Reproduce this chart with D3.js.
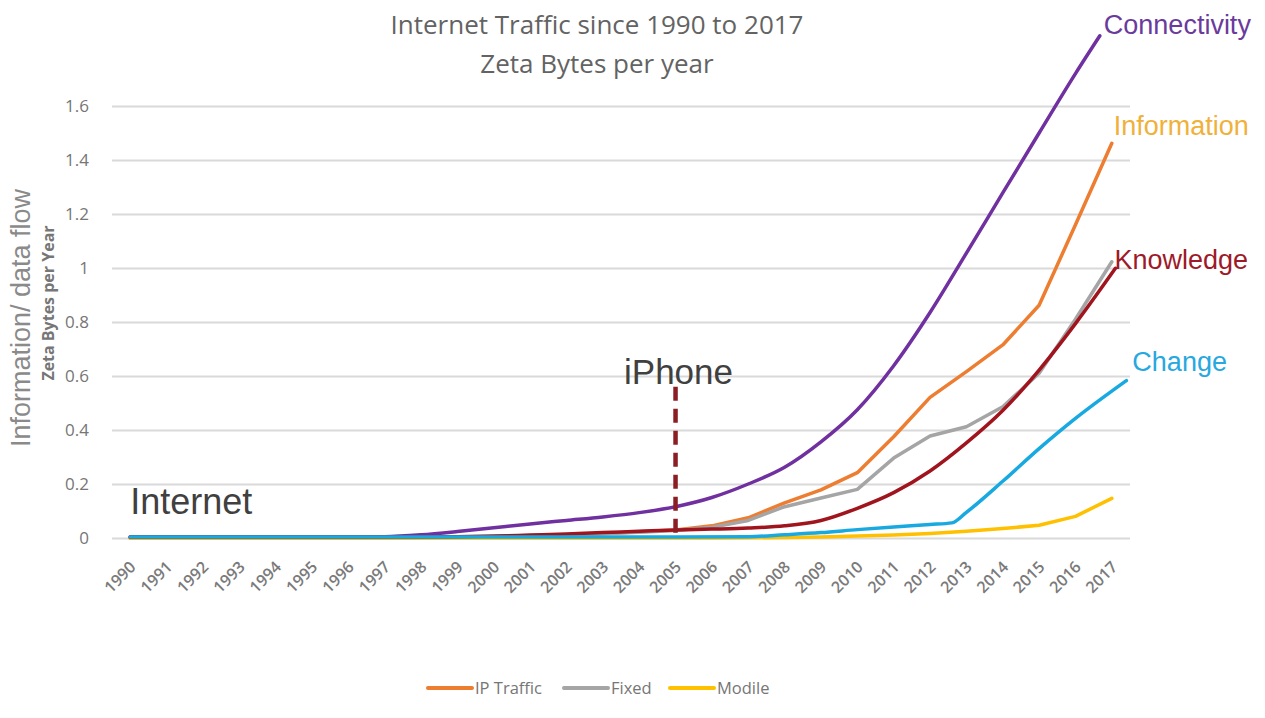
<!DOCTYPE html>
<html>
<head>
<meta charset="utf-8">
<script src="https://cdn.jsdelivr.net/npm/d3@7"></script>
<style>
  html, body { margin: 0; padding: 0; background: #fff; }
  svg { display: block; }
</style>
</head>
<body>
<svg id="chart" width="1265" height="718"></svg>
<script>
// Yearly categories and measured series (zettabytes per year)
const years = [1990,1991,1992,1993,1994,1995,1996,1997,1998,1999,2000,2001,2002,2003,2004,2005,2006,2007,2008,2009,2010,2011,2012,2013,2014,2015,2016,2017];
const ipTraffic = [0,0,0,0,0,0,0,0.001,0.002,0.003,0.005,0.008,0.012,0.017,0.023,0.03,0.045,0.075,0.13,0.178,0.242,0.375,0.521,0.616,0.715,0.862,1.16,1.462];
const fixed     = [0,0,0,0,0,0,0,0.001,0.002,0.003,0.005,0.008,0.011,0.016,0.021,0.028,0.04,0.065,0.116,0.148,0.18,0.296,0.378,0.412,0.486,0.61,0.81,1.023];
const mobile    = [0,0,0,0,0,0,0,0,0,0,0,0,0,0,0,0,0,0.001,0.002,0.004,0.007,0.011,0.017,0.025,0.035,0.047,0.08,0.147];

// Annotation curves drawn over the chart
const connectivityYears = [1990,1994,1996,1997,1998,1999,2000,2001,2002,2003,2004,2005,2006,2007,2008,2009,2010,2011,2012,2013,2014,2015,2016,2016.67];
const connectivity      = [0.004,0.004,0.004,0.005,0.012,0.024,0.038,0.052,0.065,0.078,0.094,0.116,0.15,0.2,0.262,0.356,0.475,0.638,0.835,1.055,1.278,1.5,1.72,1.86];
const knowledgeYears = [1990,1998,1999,2000,2001,2002,2003,2004,2005,2006,2007,2008,2009,2010,2011,2012,2013,2014,2015,2016,2017.1];
const knowledge      = [0.004,0.004,0.005,0.007,0.011,0.015,0.02,0.025,0.03,0.033,0.037,0.045,0.065,0.11,0.168,0.248,0.352,0.472,0.622,0.794,0.999];
const changeYears = [1990,1995,2000,2005,2007,2008,2009,2010,2011,2012,2012.6,2013,2014,2015,2016,2017.4];
const change      = [0.004,0.004,0.004,0.004,0.005,0.012,0.02,0.031,0.041,0.05,0.056,0.095,0.21,0.331,0.443,0.583];

const yTicks = [0,0.2,0.4,0.6,0.8,1,1.2,1.4,1.6];
const iPhoneYear = 2005;
const iPhoneTop = 0.56;

const svg = d3.select("#chart");
const x = d3.scaleLinear().domain([1989.5, 2017.5]).range([112, 1130]);
const y = d3.scaleLinear().domain([0, 1.6]).range([538, 106]);

const FONT = "'Open Sans', sans-serif";
const ARIAL = "'Liberation Sans', Arial, sans-serif";

// Titles
svg.append("text").attr("x", 597).attr("y", 34).attr("text-anchor", "middle")
  .attr("font-family", FONT).attr("font-size", 26).attr("fill", "#636363")
  .text("Internet Traffic since 1990 to 2017");
svg.append("text").attr("x", 597).attr("y", 73).attr("text-anchor", "middle")
  .attr("font-family", FONT).attr("font-size", 26).attr("fill", "#636363")
  .text("Zeta Bytes per year");

// Horizontal gridlines + y axis labels
const yAxis = d3.axisLeft(y).tickValues(yTicks).tickSize(-(1130 - 112)).tickPadding(23)
  .tickFormat(d => String(d));
const gy = svg.append("g").attr("transform", "translate(112,0)").call(yAxis);
gy.select(".domain").remove();
gy.selectAll(".tick line").attr("stroke", "#d9d9d9").attr("stroke-width", 2);
gy.selectAll(".tick text").attr("font-family", FONT).attr("font-size", 17).attr("fill", "#767676");

// X axis labels, rotated
const xAxis = d3.axisBottom(x).tickValues(years).tickSize(0).tickFormat(d3.format("d"));
const gx = svg.append("g").attr("transform", "translate(0,538)").call(xAxis);
gx.select(".domain").remove();
gx.selectAll(".tick text")
  .attr("font-family", FONT).attr("font-size", 16).attr("font-weight", 600).attr("fill", "#7a7a7a")
  .attr("text-anchor", "end").attr("dy", 0)
  .attr("transform", "translate(4,28) rotate(-45)");

// Axis titles
svg.append("text").attr("transform", "translate(54,303) rotate(-90)").attr("text-anchor", "middle")
  .attr("font-family", FONT).attr("font-weight", "bold").attr("font-size", 16).attr("fill", "#767676")
  .text("Zeta Bytes per Year");
svg.append("text").attr("transform", "translate(30,318) rotate(-90)").attr("text-anchor", "middle")
  .attr("font-family", ARIAL).attr("font-size", 27).attr("fill", "#8a8a8a")
  .text("Information/ data flow");

// Series lines
const line = d3.line().x(d => x(d[0])).y(d => y(d[1]));
const smooth = d3.line().x(d => x(d[0])).y(d => y(d[1])).curve(d3.curveMonotoneX);
const zip = (xs, vs) => xs.map((v, i) => [v, vs[i]]);

const series = [
  { name: "IP Traffic", values: ipTraffic, color: "#ED7D31" },
  { name: "Fixed", values: fixed, color: "#A5A5A5" },
  { name: "Modile", values: mobile, color: "#FFC000" }
];
series.forEach(s => {
  svg.append("path").datum(zip(years, s.values)).attr("d", line)
    .attr("fill", "none").attr("stroke", s.color).attr("stroke-width", 3.5)
    .attr("stroke-linejoin", "round").attr("stroke-linecap", "round");
});

const curves = [
  { years: connectivityYears, values: connectivity, color: "#7030A0" },
  { years: knowledgeYears, values: knowledge, color: "#A0141E" },
  { years: changeYears, values: change, color: "#19A9E1" }
];
curves.forEach(c => {
  svg.append("path").datum(zip(c.years, c.values)).attr("d", smooth)
    .attr("fill", "none").attr("stroke", c.color).attr("stroke-width", 3.5)
    .attr("stroke-linecap", "round");
});

// iPhone marker
svg.append("line")
  .attr("x1", x(iPhoneYear)).attr("x2", x(iPhoneYear))
  .attr("y1", y(iPhoneTop)).attr("y2", y(0))
  .attr("stroke", "#8B1E24").attr("stroke-width", 4.5).attr("stroke-dasharray", "14,8");
svg.append("text").attr("x", x(iPhoneYear) + 3).attr("y", 384).attr("text-anchor", "middle")
  .attr("font-family", ARIAL).attr("font-size", 35).attr("fill", "#404040").text("iPhone");
svg.append("text").attr("x", x(1990)).attr("y", 514)
  .attr("font-family", ARIAL).attr("font-size", 36).attr("fill", "#404040").text("Internet");

// End labels
const endLabels = [
  { text: "Connectivity", color: "#6A3B9C", yr: connectivityYears, v: connectivity, dx: 4, dy: -2 },
  { text: "Information", color: "#F0B13A", yr: years, v: ipTraffic, dx: 2, dy: -8 },
  { text: "Knowledge", color: "#9E1A28", yr: knowledgeYears, v: knowledge, dx: -1, dy: 1 },
  { text: "Change", color: "#27A8DF", yr: changeYears, v: change, dx: 6, dy: -10 }
];
endLabels.forEach(l => {
  const n = l.yr.length - 1;
  svg.append("text").attr("x", x(l.yr[n]) + l.dx).attr("y", y(l.v[n]) + l.dy)
    .attr("font-family", ARIAL).attr("font-size", 27).attr("fill", l.color).text(l.text);
});

// Legend
const legendItems = [
  { name: "IP Traffic", color: "#ED7D31", x: 428 },
  { name: "Fixed", color: "#A5A5A5", x: 564 },
  { name: "Modile", color: "#FFC000", x: 670 }
];
legendItems.forEach(it => {
  svg.append("line").attr("x1", it.x).attr("x2", it.x + 44).attr("y1", 688).attr("y2", 688)
    .attr("stroke", it.color).attr("stroke-width", 4).attr("stroke-linecap", "round");
  svg.append("text").attr("x", it.x + 47).attr("y", 694)
    .attr("font-family", FONT).attr("font-size", 16.5).attr("fill", "#767676").text(it.name);
});
</script>
</body>
</html>
